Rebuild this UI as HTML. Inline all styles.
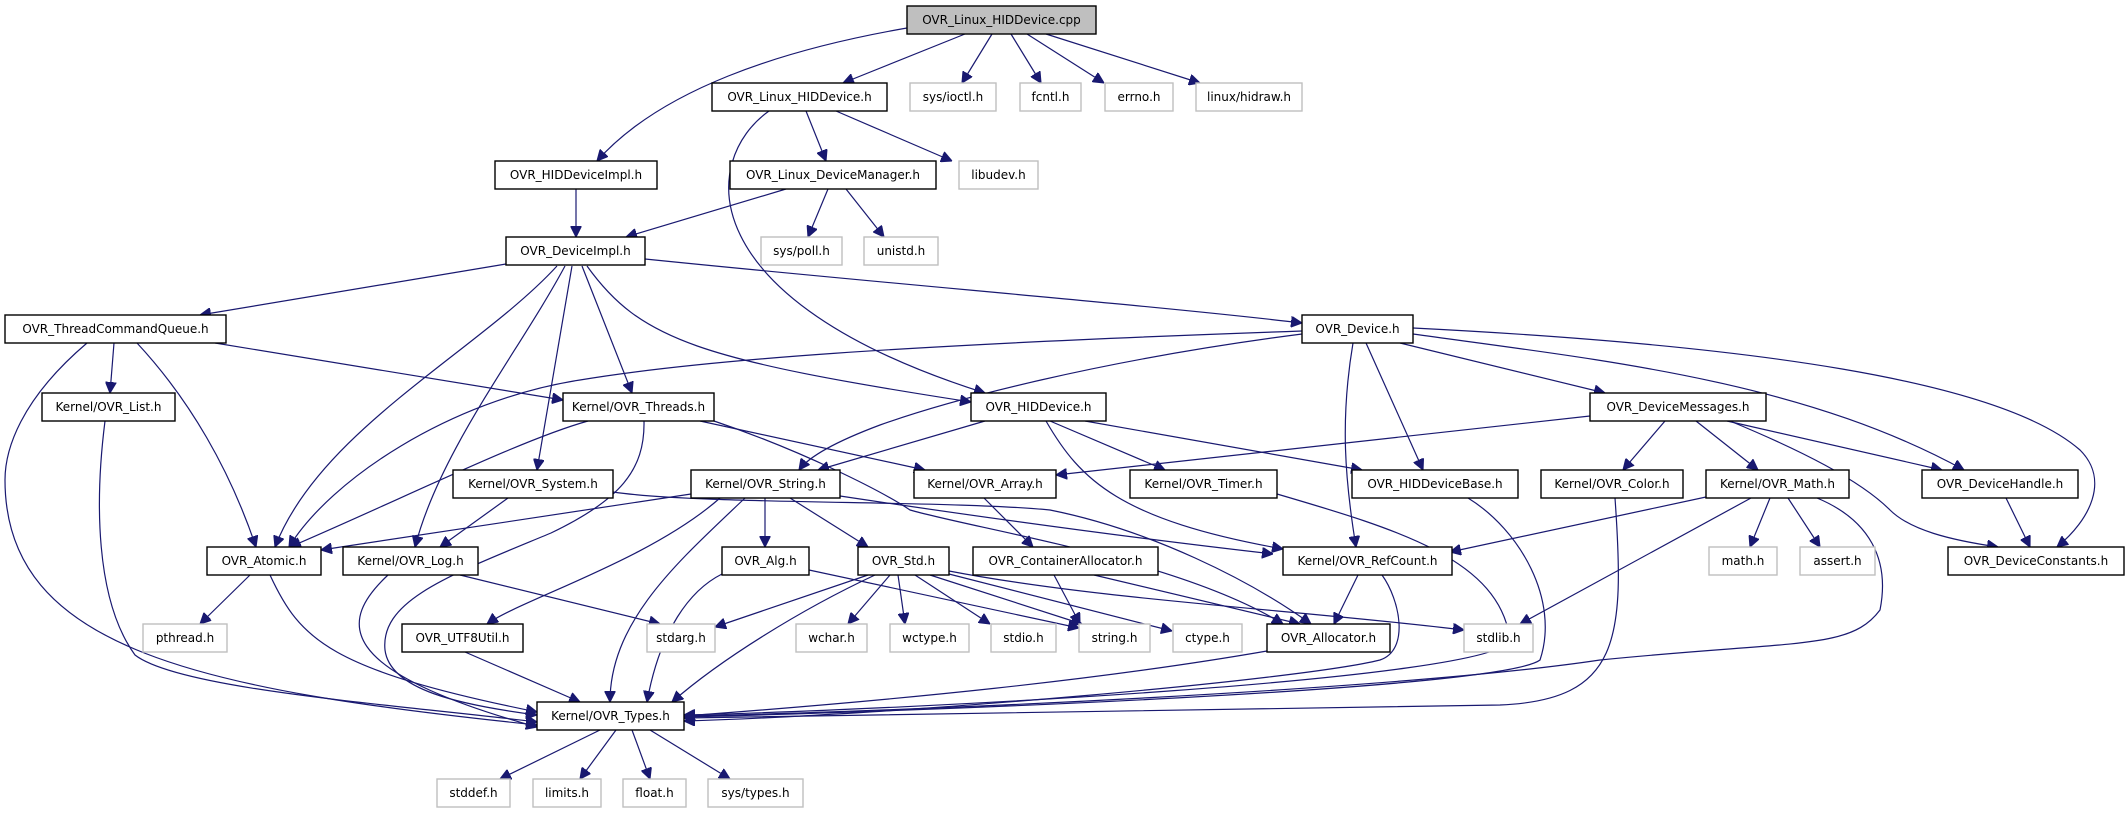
<!DOCTYPE html>
<html><head><meta charset="utf-8"><style>
html,body{margin:0;padding:0;background:#fff;}
svg{display:block;}
text{font-family:"DejaVu Sans","Liberation Sans",sans-serif;font-size:12px;fill:#000;text-anchor:middle;}
.n{fill:#fff;stroke:#000;stroke-width:1.4;}
.s{fill:#fff;stroke:#bfbfbf;stroke-width:1.4;}
.e{fill:none;stroke:#191970;stroke-width:1.2;}
</style></head><body>
<svg width="2128" height="813" viewBox="0 0 2128 813" xmlns="http://www.w3.org/2000/svg">
<defs><marker id="a" viewBox="0 0 10 10" refX="10" refY="5" markerWidth="11" markerHeight="11" markerUnits="userSpaceOnUse" orient="auto"><path d="M0,0 L10,5 L0,10 z" fill="#191970" stroke="#191970"/></marker></defs>
<g class="e" marker-end="url(#a)">
<path d="M907,28 C780,50 660,90 597,161"/>
<path d="M965,34 L843,83"/>
<path d="M992,34 L962,83"/>
<path d="M1011,34 L1041,83"/>
<path d="M1027,34 L1104,83"/>
<path d="M1046,34 L1200,83"/>
<path d="M806,111 L826,161"/>
<path d="M836,111 L952,161"/>
<path d="M769,111 C700,160 690,300 985,393"/>
<path d="M576,189 L576,237"/>
<path d="M786,189 L626,237"/>
<path d="M828,189 L808,237"/>
<path d="M846,189 L884,237"/>
<path d="M506,264 L200,315"/>
<path d="M645,259 C900,285 1150,305 1302,323"/>
<path d="M582,266 L632,393"/>
<path d="M587,266 C640,340 700,360 971,402"/>
<path d="M572,266 L537,470"/>
<path d="M565,266 C520,350 440,450 415,547"/>
<path d="M557,266 C480,350 320,430 275,547"/>
<path d="M114,343 L110,393"/>
<path d="M137,343 C190,400 230,470 256,547"/>
<path d="M87,343 C20,400 5,450 5,480 C5,650 200,690 537,725"/>
<path d="M215,343 L563,400"/>
<path d="M105,421 C95,500 95,600 135,655 C180,690 400,705 537,722"/>
<path d="M588,421 C520,440 400,500 290,547"/>
<path d="M644,421 C645,470 620,500 551,533 C450,575 380,600 385,650 C390,690 460,705 537,715"/>
<path d="M700,421 L925,470"/>
<path d="M714,421 C800,450 880,490 910,510 C980,530 1180,560 1283,624"/>
<path d="M1302,331 C900,345 700,360 580,380 C450,400 330,480 289,547"/>
<path d="M1302,334 C1100,360 950,400 880,425 C840,440 810,455 799,470"/>
<path d="M1400,343 L1605,393"/>
<path d="M1413,334 C1600,360 1800,380 1964,470"/>
<path d="M1413,328 C1750,345 2000,380 2080,450 C2110,480 2090,520 2057,547"/>
<path d="M1366,343 L1423,470"/>
<path d="M1353,343 C1340,420 1345,480 1356,547"/>
<path d="M985,421 L818,470"/>
<path d="M1050,421 L1165,470"/>
<path d="M1085,421 L1362,470"/>
<path d="M1046,421 C1080,480 1120,520 1283,549"/>
<path d="M1590,416 L1056,475"/>
<path d="M1665,421 L1623,470"/>
<path d="M1696,421 L1758,470"/>
<path d="M1727,421 L1942,470"/>
<path d="M1730,421 C1800,450 1860,480 1890,510 C1910,530 1950,540 1998,547"/>
<path d="M2006,498 L2030,547"/>
<path d="M1706,497 L1450,552"/>
<path d="M1751,498 L1520,624"/>
<path d="M1770,498 L1750,547"/>
<path d="M1788,498 L1820,547"/>
<path d="M1817,498 C1870,520 1890,560 1880,610 C1850,650 1800,640 1600,660 C1400,690 900,712 684,716"/>
<path d="M1615,498 C1625,640 1620,700 1500,705 C1200,712 900,716 684,718"/>
<path d="M1468,498 C1520,530 1560,600 1540,660 C1500,690 900,712 684,717"/>
<path d="M1277,494 C1400,530 1500,560 1510,640 C1500,680 900,710 684,715"/>
<path d="M1358,575 L1334,624"/>
<path d="M1382,575 C1400,600 1410,650 1380,660 C1300,680 900,715 684,721"/>
<path d="M1267,651 C1100,680 900,700 684,716"/>
<path d="M984,498 L1033,547"/>
<path d="M1054,575 L1080,624"/>
<path d="M1094,575 L1300,624"/>
<path d="M691,494 L321,550"/>
<path d="M765,498 L765,547"/>
<path d="M790,498 L868,547"/>
<path d="M720,498 C650,560 520,600 487,624"/>
<path d="M745,498 C680,560 610,620 610,702"/>
<path d="M840,496 C1000,520 1150,540 1273,554"/>
<path d="M613,492 C700,505 950,500 1050,510 C1150,530 1250,580 1311,624"/>
<path d="M508,498 L440,547"/>
<path d="M250,575 L200,624"/>
<path d="M270,575 C300,640 330,670 537,712"/>
<path d="M460,575 L660,624"/>
<path d="M388,575 C340,620 330,670 537,727"/>
<path d="M722,574 C690,590 660,630 647,702"/>
<path d="M809,570 L1079,628"/>
<path d="M465,652 L580,702"/>
<path d="M868,575 L715,627"/>
<path d="M875,575 C800,610 720,660 672,702"/>
<path d="M890,575 L848,624"/>
<path d="M898,575 L905,624"/>
<path d="M915,575 L990,624"/>
<path d="M930,575 L1082,624"/>
<path d="M945,573 L1172,631"/>
<path d="M949,571 C1100,600 1300,610 1464,630"/>
<path d="M600,730 L500,779"/>
<path d="M616,730 L580,779"/>
<path d="M632,730 L650,779"/>
<path d="M650,730 L730,779"/>
</g>
<g>
<rect x="907" y="6" width="189" height="28" fill="#bfbfbf" stroke="#000" stroke-width="1.4"/><text x="1001.5" y="24">OVR_Linux_HIDDevice.cpp</text>
<rect class="n" x="712" y="83" width="175" height="28"/><text x="799.5" y="101">OVR_Linux_HIDDevice.h</text>
<rect class="s" x="910" y="83" width="86" height="28"/><text x="953" y="101">sys/ioctl.h</text>
<rect class="s" x="1020" y="83" width="61" height="28"/><text x="1050.5" y="101">fcntl.h</text>
<rect class="s" x="1105" y="83" width="68" height="28"/><text x="1139" y="101">errno.h</text>
<rect class="s" x="1196" y="83" width="106" height="28"/><text x="1249" y="101">linux/hidraw.h</text>
<rect class="n" x="495" y="161" width="162" height="28"/><text x="576" y="179">OVR_HIDDeviceImpl.h</text>
<rect class="n" x="730" y="161" width="206" height="28"/><text x="833" y="179">OVR_Linux_DeviceManager.h</text>
<rect class="s" x="959" y="161" width="79" height="28"/><text x="998.5" y="179">libudev.h</text>
<rect class="n" x="506" y="237" width="139" height="28"/><text x="575.5" y="255">OVR_DeviceImpl.h</text>
<rect class="s" x="761" y="237" width="81" height="28"/><text x="801.5" y="255">sys/poll.h</text>
<rect class="s" x="864" y="237" width="74" height="28"/><text x="901" y="255">unistd.h</text>
<rect class="n" x="5" y="315" width="221" height="28"/><text x="115.5" y="333">OVR_ThreadCommandQueue.h</text>
<rect class="n" x="1302" y="315" width="111" height="28"/><text x="1357.5" y="333">OVR_Device.h</text>
<rect class="n" x="42" y="393" width="133" height="28"/><text x="108.5" y="411">Kernel/OVR_List.h</text>
<rect class="n" x="563" y="393" width="151" height="28"/><text x="638.5" y="411">Kernel/OVR_Threads.h</text>
<rect class="n" x="971" y="393" width="135" height="28"/><text x="1038.5" y="411">OVR_HIDDevice.h</text>
<rect class="n" x="1590" y="393" width="176" height="28"/><text x="1678" y="411">OVR_DeviceMessages.h</text>
<rect class="n" x="453" y="470" width="160" height="28"/><text x="533" y="488">Kernel/OVR_System.h</text>
<rect class="n" x="691" y="470" width="149" height="28"/><text x="765.5" y="488">Kernel/OVR_String.h</text>
<rect class="n" x="914" y="470" width="142" height="28"/><text x="985" y="488">Kernel/OVR_Array.h</text>
<rect class="n" x="1130" y="470" width="147" height="28"/><text x="1203.5" y="488">Kernel/OVR_Timer.h</text>
<rect class="n" x="1352" y="470" width="166" height="28"/><text x="1435" y="488">OVR_HIDDeviceBase.h</text>
<rect class="n" x="1541" y="470" width="142" height="28"/><text x="1612" y="488">Kernel/OVR_Color.h</text>
<rect class="n" x="1706" y="470" width="143" height="28"/><text x="1777.5" y="488">Kernel/OVR_Math.h</text>
<rect class="n" x="1922" y="470" width="156" height="28"/><text x="2000" y="488">OVR_DeviceHandle.h</text>
<rect class="n" x="207" y="547" width="114" height="28"/><text x="264" y="565">OVR_Atomic.h</text>
<rect class="n" x="343" y="547" width="135" height="28"/><text x="410.5" y="565">Kernel/OVR_Log.h</text>
<rect class="n" x="722" y="547" width="87" height="28"/><text x="765.5" y="565">OVR_Alg.h</text>
<rect class="n" x="858" y="547" width="91" height="28"/><text x="903.5" y="565">OVR_Std.h</text>
<rect class="n" x="973" y="547" width="185" height="28"/><text x="1065.5" y="565">OVR_ContainerAllocator.h</text>
<rect class="n" x="1283" y="547" width="169" height="28"/><text x="1367.5" y="565">Kernel/OVR_RefCount.h</text>
<rect class="s" x="1709" y="547" width="68" height="28"/><text x="1743" y="565">math.h</text>
<rect class="s" x="1800" y="547" width="75" height="28"/><text x="1837.5" y="565">assert.h</text>
<rect class="n" x="1948" y="547" width="176" height="28"/><text x="2036" y="565">OVR_DeviceConstants.h</text>
<rect class="s" x="143" y="624" width="84" height="28"/><text x="185" y="642">pthread.h</text>
<rect class="n" x="402" y="624" width="121" height="28"/><text x="462.5" y="642">OVR_UTF8Util.h</text>
<rect class="s" x="647" y="624" width="68" height="28"/><text x="681" y="642">stdarg.h</text>
<rect class="s" x="796" y="624" width="71" height="28"/><text x="831.5" y="642">wchar.h</text>
<rect class="s" x="890" y="624" width="79" height="28"/><text x="929.5" y="642">wctype.h</text>
<rect class="s" x="991" y="624" width="65" height="28"/><text x="1023.5" y="642">stdio.h</text>
<rect class="s" x="1079" y="624" width="71" height="28"/><text x="1114.5" y="642">string.h</text>
<rect class="s" x="1173" y="624" width="69" height="28"/><text x="1207.5" y="642">ctype.h</text>
<rect class="n" x="1267" y="624" width="123" height="28"/><text x="1328.5" y="642">OVR_Allocator.h</text>
<rect class="s" x="1464" y="624" width="69" height="28"/><text x="1498.5" y="642">stdlib.h</text>
<rect class="n" x="537" y="702" width="147" height="28"/><text x="610.5" y="720">Kernel/OVR_Types.h</text>
<rect class="s" x="437" y="779" width="73" height="28"/><text x="473.5" y="797">stddef.h</text>
<rect class="s" x="533" y="779" width="68" height="28"/><text x="567" y="797">limits.h</text>
<rect class="s" x="623" y="779" width="63" height="28"/><text x="654.5" y="797">float.h</text>
<rect class="s" x="708" y="779" width="95" height="28"/><text x="755.5" y="797">sys/types.h</text>
</g>
</svg>
</body></html>
